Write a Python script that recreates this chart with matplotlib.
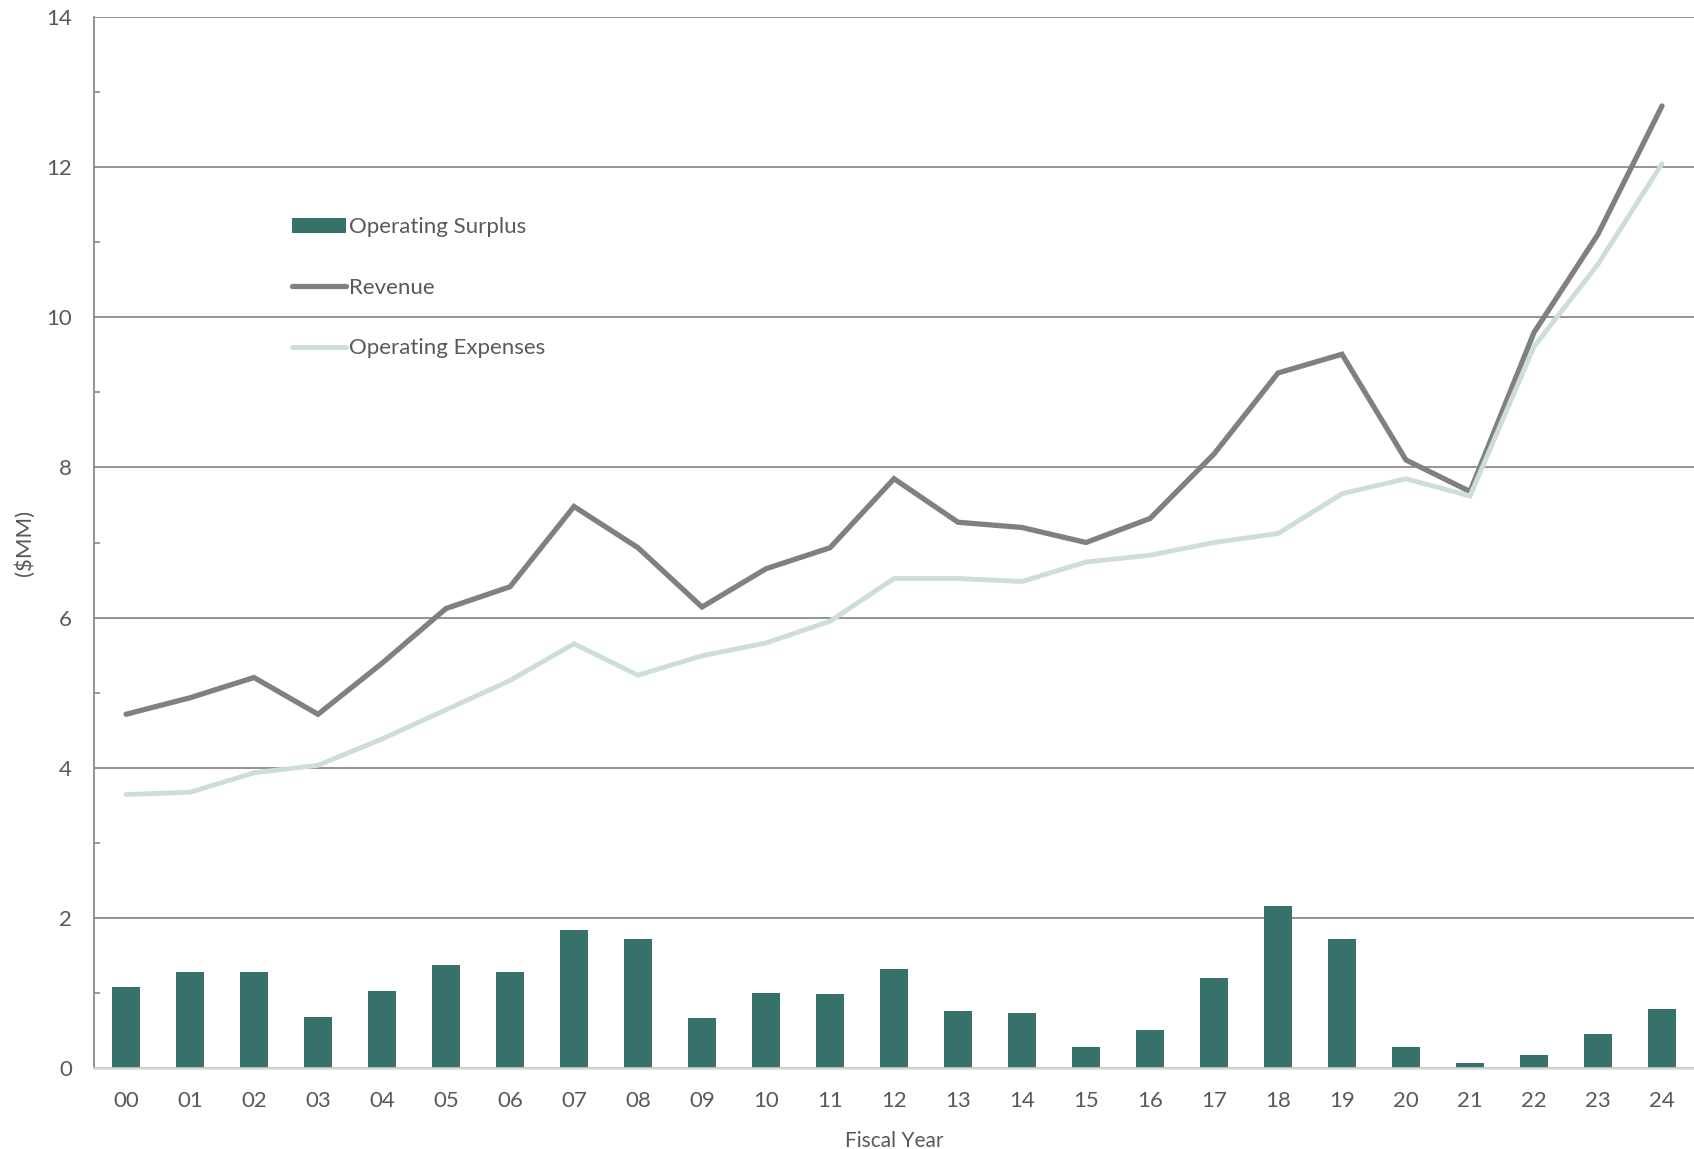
import numpy as np
import matplotlib
matplotlib.use("Agg")
import matplotlib.pyplot as plt
from matplotlib.ticker import MultipleLocator

plt.rcParams['font.family'] = ['Lato', 'DejaVu Sans']

# fiscal years 2000-2024, $MM
years = ["00", "01", "02", "03", "04", "05", "06", "07", "08", "09", "10", "11", "12",
         "13", "14", "15", "16", "17", "18", "19", "20", "21", "22", "23", "24"]
revenue = [4.71, 4.93, 5.20, 4.71, 5.39, 6.12, 6.41, 7.48, 6.93, 6.14, 6.65, 6.93, 7.85,
           7.27, 7.20, 7.00, 7.32, 8.18, 9.26, 9.51, 8.10, 7.68, 9.80, 11.11, 12.82]
expenses = [3.64, 3.67, 3.93, 4.03, 4.38, 4.77, 5.16, 5.65, 5.23, 5.49, 5.66, 5.95, 6.52,
            6.52, 6.48, 6.74, 6.83, 7.00, 7.12, 7.65, 7.85, 7.62, 9.61, 10.71, 12.05]
surplus = [1.07, 1.27, 1.27, 0.68, 1.02, 1.37, 1.27, 1.84, 1.71, 0.66, 0.99, 0.98, 1.32,
           0.75, 0.73, 0.28, 0.50, 1.20, 2.15, 1.72, 0.27, 0.06, 0.17, 0.45, 0.78]

text_col = "#595959"
grid_col = "#8a8a8a"

fig = plt.figure(figsize=(16.94, 11.49), dpi=100)
ax = fig.add_axes([0.0555, 0.0709, 0.9445, 0.9139])

x = np.arange(len(years))
bars = ax.bar(x, surplus, width=0.43, color="#36716a", label="Operating Surplus", zorder=3)
rev_line, = ax.plot(x, revenue, color="#808080", lw=3.8, solid_capstyle="round",
                    solid_joinstyle="miter", label="Revenue", zorder=4)
exp_line, = ax.plot(x, expenses, color="#cddeda", lw=3.5, solid_capstyle="round",
                    solid_joinstyle="miter", label="Operating Expenses", zorder=4)

ax.set_xlim(-0.5, 24.5)
ax.set_ylim(0, 14)
ax.set_xticks(x)
ax.set_xticklabels(years)
ax.yaxis.set_major_locator(MultipleLocator(2))
ax.yaxis.set_minor_locator(MultipleLocator(1))
ax.grid(axis="y", which="major", color=grid_col, lw=1.3, zorder=1)

ax.tick_params(axis="x", length=0, pad=17, labelsize=16, labelcolor=text_col)
ax.tick_params(axis="y", which="major", length=0, pad=16, labelsize=16, labelcolor=text_col)
ax.tick_params(axis="y", which="minor", direction="in", length=4, width=1.2, color=grid_col)

for s in ["top", "right"]:
    ax.spines[s].set_visible(False)
ax.spines["left"].set_color(grid_col)
ax.spines["left"].set_linewidth(1.3)
ax.spines["bottom"].set_color("#d9d9d9")
ax.spines["bottom"].set_linewidth(1.8)
ax.spines["bottom"].set_zorder(5)

ax.set_xlabel("Fiscal Year", fontsize=15, color=text_col, labelpad=14)
ax.set_ylabel("($MM)", fontsize=16, color=text_col, labelpad=8)

ax.legend(handles=[bars, rev_line, exp_line], loc="upper left",
          bbox_to_anchor=(0.118, 0.818), frameon=False,
          fontsize=16, labelcolor=text_col, handlelength=2.45, handleheight=0.7,
          handletextpad=0.15, labelspacing=1.82, borderaxespad=0)

fig.savefig("out.png", dpi=100)
